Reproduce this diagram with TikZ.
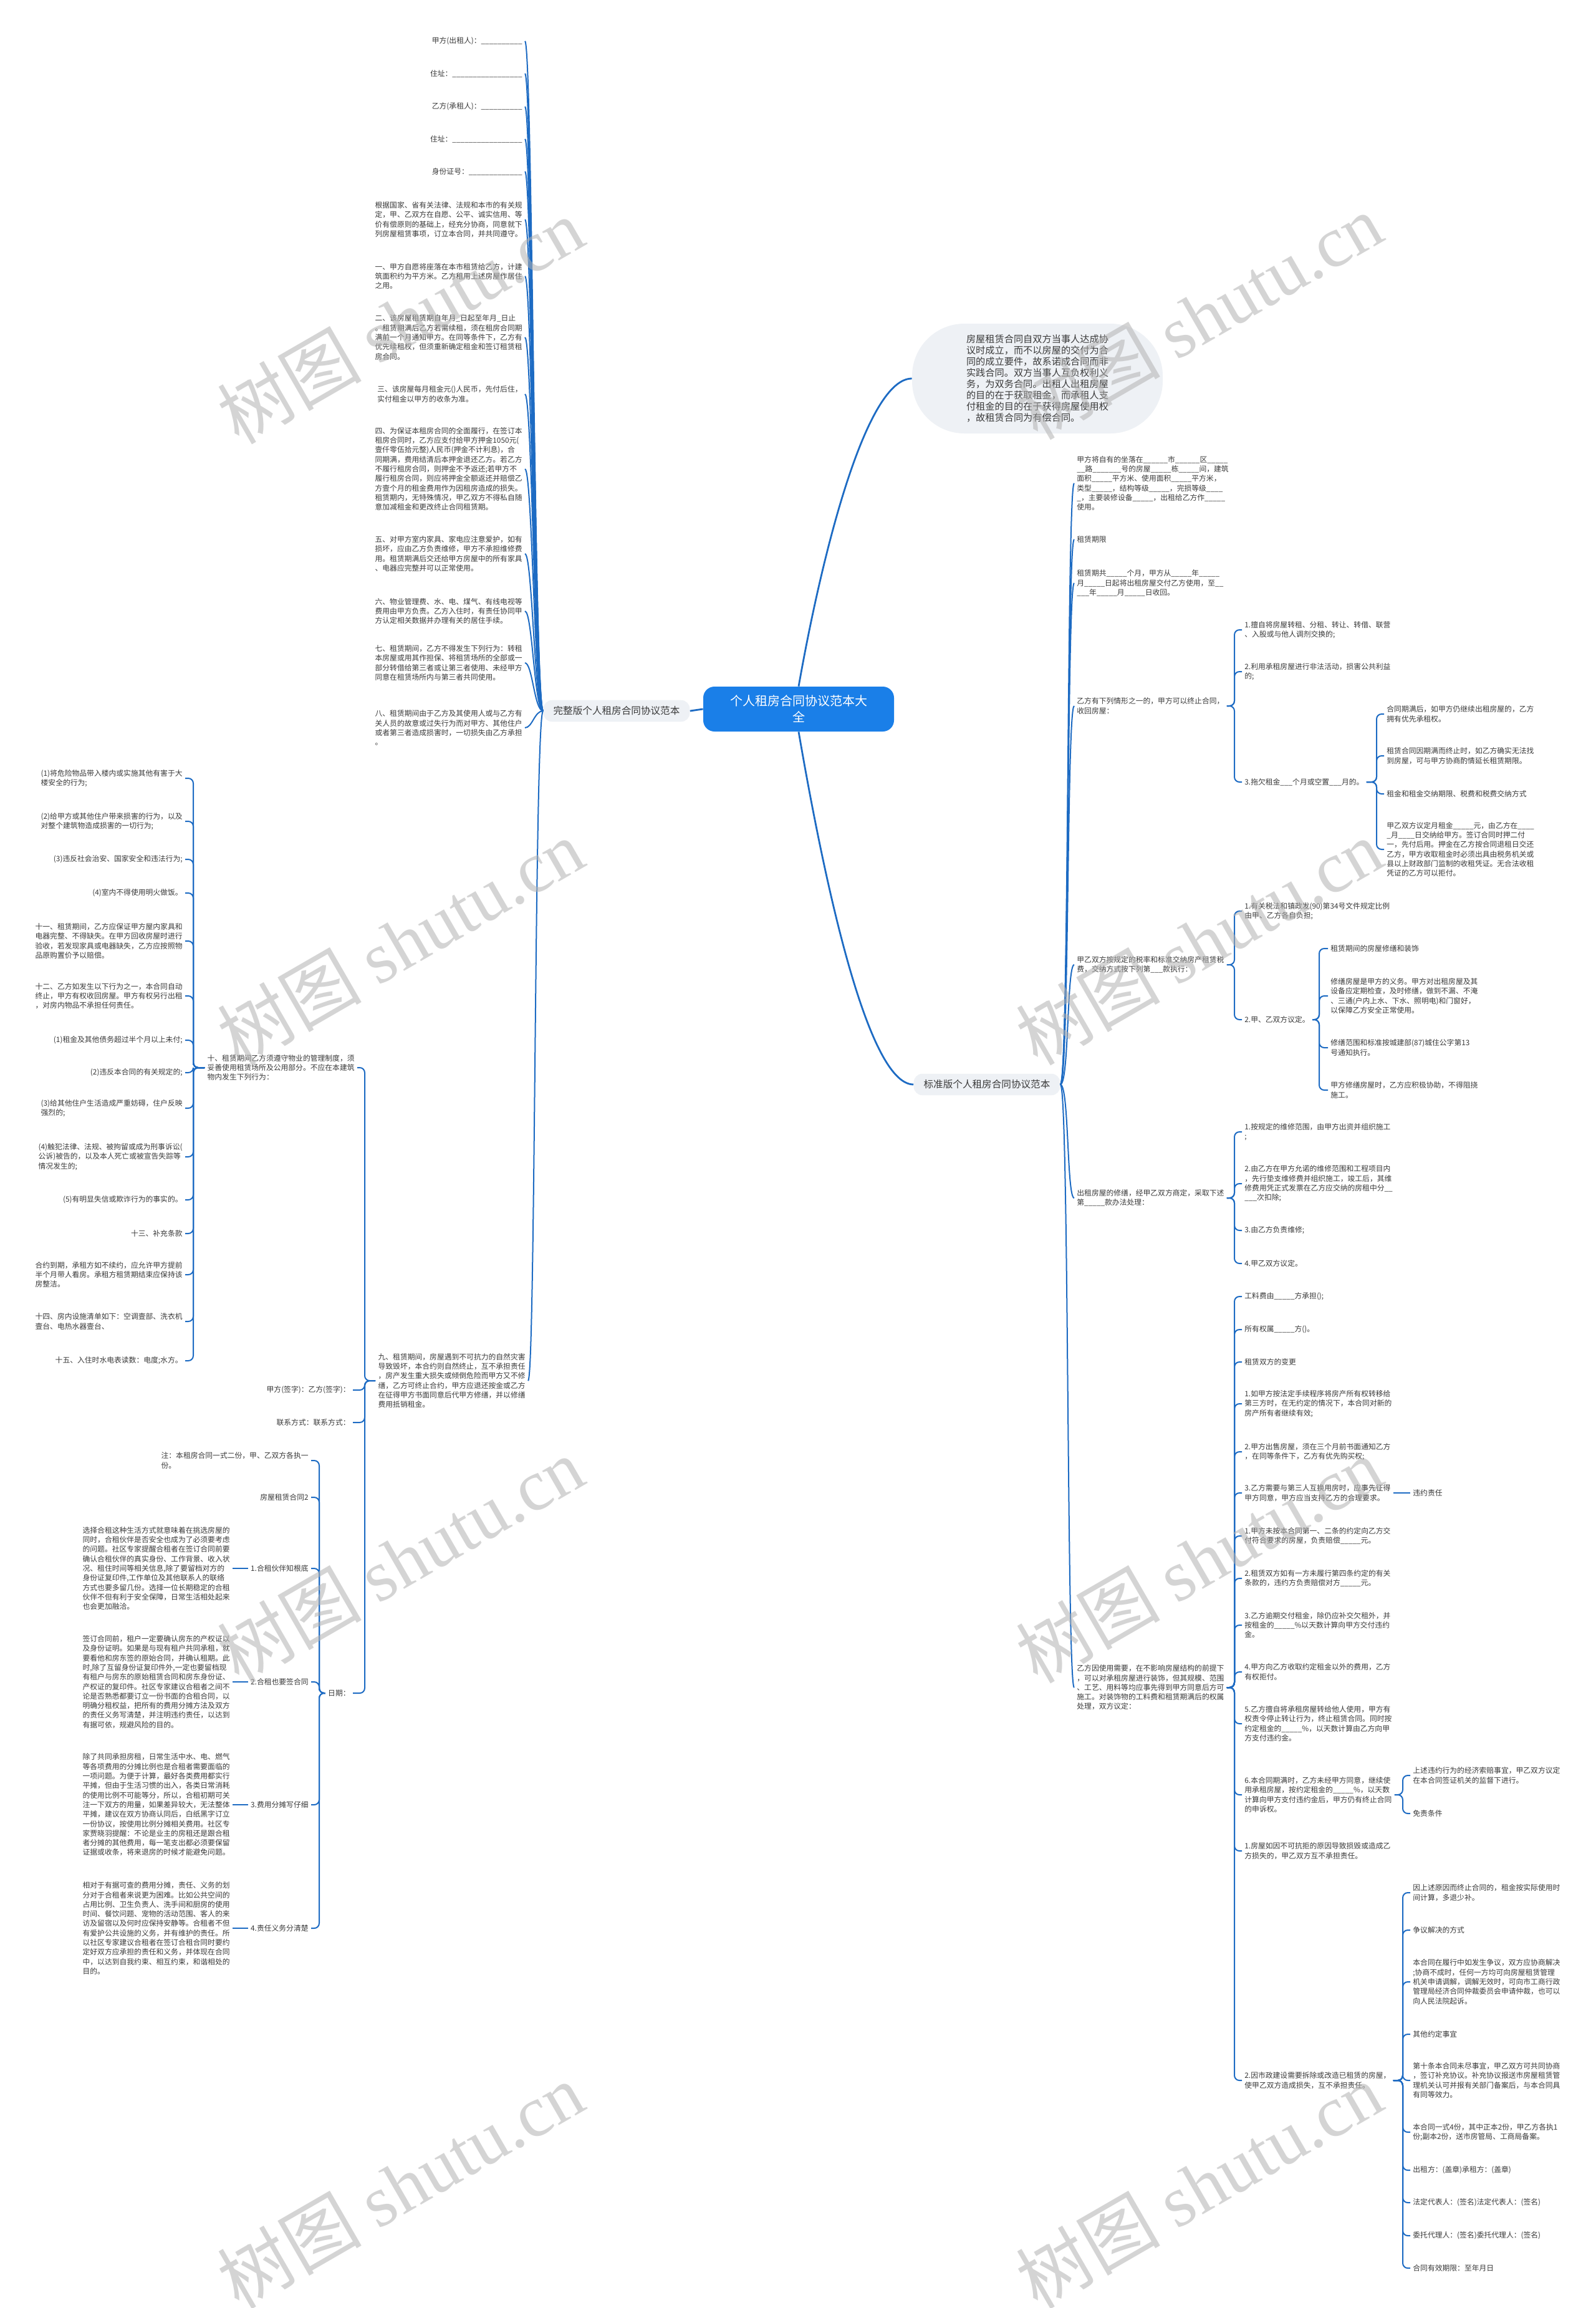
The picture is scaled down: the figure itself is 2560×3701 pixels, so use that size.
\documentclass[tikz,border=0pt]{standalone}
\usepackage{fontspec}
\setmainfont{Noto Sans CJK SC}
\newfontfamily\wmfont{Liberation Serif}
\usetikzlibrary{positioning}

\definecolor{linkblue}{HTML}{1D6BC3}
\definecolor{inkgray}{HTML}{3A3A3A}
\definecolor{rootblue}{HTML}{1A7FE8}
\definecolor{softgray}{HTML}{EEF1F5}

\newcommand{\blanks}[1]{\foreach\uscount in {1,...,#1}{\_}}

\tikzset{
  leaf/.style={inner sep=2pt, align=left, text=inkgray,
    font=\fontsize{5.9pt}{7.65pt}\selectfont},
  leafl/.style={leaf, anchor=east},
  leafr/.style={leaf, anchor=west},
  rootbox/.style={fill=rootblue, rounded corners=9pt, text=white, align=center,
    minimum width=153pt, minimum height=36pt, font=\fontsize{10pt}{13pt}\selectfont},
  topicbox/.style={fill=softgray, rounded corners=7pt, text=inkgray,
    inner xsep=8pt, inner ysep=5pt, font=\fontsize{7.8pt}{9pt}\selectfont},
  bubble/.style={fill=softgray, rounded corners=42pt, text=inkgray, align=left,
    minimum width=201pt, minimum height=88pt, font=\fontsize{7.6pt}{9pt}\selectfont},
  trunk/.style={draw=linkblue, line width=1.4pt},
  bund/.style={draw=linkblue, line width=1pt},
  link/.style={draw=linkblue, line width=1pt, rounded corners=4pt},
  wmark/.style={text=black!30, text opacity=0.55, rotate=30,
    font=\fontsize{58pt}{60pt}\selectfont},
}

\begin{document}
\begin{tikzpicture}[x=0.5pt,y=-0.5pt]
\fill[white] (0,0) rectangle (2560,3701);
\useasboundingbox (0,0) rectangle (2560,3701);

% centre and the two topics
\node[rootbox] (root) at (1281,1137) {个人租房合同协议范本大\\全};
\node[bubble] (bub) at (1664,607) {房屋租赁合同自双方当事人达成协\\议时成立，而不以房屋的交付为合\\同的成立要件，故系诺成合同而非\\实践合同。双方当事人互负权利义\\务，为双务合同。出租人出租房屋\\的目的在于获取租金，而承租人支\\付租金的目的在于获得房屋使用权\\，故租赁合同为有偿合同。};
\node[topicbox] (lft) at (989,1140) {完整版个人租房合同协议范本};
\node[topicbox] (rgt) at (1583,1739) {标准版个人租房合同协议范本};
\draw[trunk] (root.west) -- (lft.east);
\draw[trunk] (root.north) .. controls (1320,880) and (1390,607) .. (bub.west);
\draw[trunk] (root.south) .. controls (1320,1400) and (1390,1739) .. (rgt.west);

% left topic
\node[leafl] (l01) at (842,66) {甲方(出租人)：\blanks{10}};
\node[leafl] (l02) at (842,118) {住址：\blanks{17}};
\node[leafl] (l03) at (842,171) {乙方(承租人)：\blanks{10}};
\node[leafl] (l04) at (842,223) {住址：\blanks{17}};
\node[leafl] (l05) at (842,275) {身份证号：\blanks{13}};
\node[leafl] (l06) at (842,352) {根据国家、省有关法律、法规和本市的有关规\\定，甲、乙双方在自愿、公平、诚实信用、等\\价有偿原则的基础上，经充分协商，同意就下\\列房屋租赁事项，订立本合同，并共同遵守。};
\node[leafl] (l07) at (842,443) {一、甲方自愿将座落在本市租赁给乙方，计建\\筑面积约为平方米。乙方租用上述房屋作居住\\之用。};
\node[leafl] (l08) at (842,541) {二、该房屋租赁期自年月\_日起至年月\_日止\\。租赁期满后乙方若需续租，须在租房合同期\\满前一个月通知甲方。在同等条件下，乙方有\\优先续租权，但须重新确定租金和签订租赁租\\房合同。};
\node[leafl] (l09) at (842,632) {三、该房屋每月租金元()人民币，先付后住，\\实付租金以甲方的收条为准。};
\node[leafl] (l10) at (842,752) {四、为保证本租房合同的全面履行，在签订本\\租房合同时，乙方应支付给甲方押金1050元(\\壹仟零伍拾元整)人民币(押金不计利息)，合\\同期满，费用结清后本押金退还乙方。若乙方\\不履行租房合同，则押金不予返还;若甲方不\\履行租房合同，则应将押金全额返还并赔偿乙\\方壹个月的租金费用作为因租房造成的损失。\\租赁期内，无特殊情况，甲乙双方不得私自随\\意加减租金和更改终止合同租赁期。};
\node[leafl] (l11) at (842,888) {五、对甲方室内家具、家电应注意爱护，如有\\损坏，应由乙方负责维修，甲方不承担维修费\\用。租赁期满后交还给甲方房屋中的所有家具\\、电器应完整并可以正常使用。};
\node[leafl] (l12) at (842,980) {六、物业管理费、水、电、煤气、有线电视等\\费用由甲方负责。乙方入住时，有责任协同甲\\方认定相关数据并办理有关的居住手续。};
\node[leafl] (l13) at (842,1063) {七、租赁期间，乙方不得发生下列行为：转租\\本房屋或用其作担保、将租赁场所的全部或一\\部分转借给第三者或让第三者使用、未经甲方\\同意在租赁场所内与第三者共同使用。};
\node[leafl] (l14) at (842,1167) {八、租赁期间由于乙方及其使用人或与乙方有\\关人员的故意或过失行为而对甲方、其他住户\\或者第三者造成损害时，一切损失由乙方承担\\。};
\node[leafl] (l15) at (847,2214) {九、租赁期间，房屋遇到不可抗力的自然灾害\\导致毁坏，本合约则自然终止，互不承担责任\\，房产发生重大损失或倾倒危险而甲方又不修\\缮，乙方可终止合约，甲方应退还按金或乙方\\在征得甲方书面同意后代甲方修缮，并以修缮\\费用抵销租金。};
\draw[bund] (lft.west) .. controls +(-14,0) and +(12,0) .. (l01.east);
\draw[bund] (lft.west) .. controls +(-14,0) and +(12,0) .. (l02.east);
\draw[bund] (lft.west) .. controls +(-14,0) and +(12,0) .. (l03.east);
\draw[bund] (lft.west) .. controls +(-14,0) and +(12,0) .. (l04.east);
\draw[bund] (lft.west) .. controls +(-14,0) and +(12,0) .. (l05.east);
\draw[bund] (lft.west) .. controls +(-14,0) and +(12,0) .. (l06.east);
\draw[bund] (lft.west) .. controls +(-14,0) and +(12,0) .. (l07.east);
\draw[bund] (lft.west) .. controls +(-14,0) and +(12,0) .. (l08.east);
\draw[bund] (lft.west) .. controls +(-14,0) and +(12,0) .. (l09.east);
\draw[bund] (lft.west) .. controls +(-14,0) and +(12,0) .. (l10.east);
\draw[bund] (lft.west) .. controls +(-14,0) and +(12,0) .. (l11.east);
\draw[bund] (lft.west) .. controls +(-14,0) and +(12,0) .. (l12.east);
\draw[bund] (lft.west) .. controls +(-14,0) and +(12,0) .. (l13.east);
\draw[bund] (lft.west) .. controls +(-14,0) and +(12,0) .. (l14.east);
\draw[bund] (lft.west) .. controls +(-14,0) and +(12,0) .. (l15.east);

% under item nine
\coordinate (bx9) at (585,0);
\node[leafl] (n10) at (573,1712) {十、租赁期间乙方须遵守物业的管理制度，须\\妥善使用租赁场所及公用部分。不应在本建筑\\物内发生下列行为：};
\node[leafl] (nsig) at (566,2229) {甲方(签字)：乙方(签字)：};
\node[leafl] (ntel) at (566,2281) {联系方式：联系方式：};
\node[leafl] (ndate) at (566,2715) {日期：};
\draw[link] (l15.west) -- (l15.west -| bx9) |- (n10.east);
\draw[link] (l15.west) -- (l15.west -| bx9) |- (nsig.east);
\draw[link] (l15.west) -- (l15.west -| bx9) |- (ntel.east);
\draw[link] (l15.west) -- (l15.west -| bx9) |- (ndate.east);

% under item ten
\coordinate (bx10) at (310,0);
\node[leafl] (k01) at (297,1248) {(1)将危险物品带入楼内或实施其他有害于大\\楼安全的行为;};
\node[leafl] (k02) at (297,1317) {(2)给甲方或其他住户带来损害的行为，以及\\对整个建筑物造成损害的一切行为;};
\node[leafl] (k03) at (297,1378) {(3)违反社会治安、国家安全和违法行为;};
\node[leafl] (k04) at (297,1432) {(4)室内不得使用明火做饭。};
\node[leafl] (k05) at (297,1509) {十一、租赁期间，乙方应保证甲方屋内家具和\\电器完整、不得缺失。在甲方回收房屋时进行\\验收，若发现家具或电器缺失，乙方应按照物\\品原购置价予以赔偿。};
\node[leafl] (k06) at (297,1597) {十二、乙方如发生以下行为之一，本合同自动\\终止，甲方有权收回房屋。甲方有权另行出租\\，对房内物品不承担任何责任。};
\node[leafl] (k07) at (297,1668) {(1)租金及其他债务超过半个月以上未付;};
\node[leafl] (k08) at (297,1720) {(2)违反本合同的有关规定的;};
\node[leafl] (k09) at (297,1777) {(3)给其他住户生活造成严重妨碍，住户反映\\强烈的;};
\node[leafl] (k10) at (297,1855) {(4)触犯法律、法规、被拘留或成为刑事诉讼(\\公诉)被告的，以及本人死亡或被宣告失踪等\\情况发生的;};
\node[leafl] (k11) at (297,1924) {(5)有明显失信或欺诈行为的事实的。};
\node[leafl] (k12) at (297,1978) {十三、补充条款};
\node[leafl] (k13) at (297,2044) {合约到期，承租方如不续约，应允许甲方提前\\半个月带人看房。承租方租赁期结束应保持该\\房整洁。};
\node[leafl] (k14) at (297,2119) {十四、房内设施清单如下：空调壹部、洗衣机\\壹台、电热水器壹台、};
\node[leafl] (k15) at (297,2182) {十五、入住时水电表读数：电度;水方。};
\draw[link] (n10.west) -- (n10.west -| bx10) |- (k01.east);
\draw[link] (n10.west) -- (n10.west -| bx10) |- (k02.east);
\draw[link] (n10.west) -- (n10.west -| bx10) |- (k03.east);
\draw[link] (n10.west) -- (n10.west -| bx10) |- (k04.east);
\draw[link] (n10.west) -- (n10.west -| bx10) |- (k05.east);
\draw[link] (n10.west) -- (n10.west -| bx10) |- (k06.east);
\draw[link] (n10.west) -- (n10.west -| bx10) |- (k07.east);
\draw[link] (n10.west) -- (n10.west -| bx10) |- (k08.east);
\draw[link] (n10.west) -- (n10.west -| bx10) |- (k09.east);
\draw[link] (n10.west) -- (n10.west -| bx10) |- (k10.east);
\draw[link] (n10.west) -- (n10.west -| bx10) |- (k11.east);
\draw[link] (n10.west) -- (n10.west -| bx10) |- (k12.east);
\draw[link] (n10.west) -- (n10.west -| bx10) |- (k13.east);
\draw[link] (n10.west) -- (n10.west -| bx10) |- (k14.east);
\draw[link] (n10.west) -- (n10.west -| bx10) |- (k15.east);

% under the date
\coordinate (bxd) at (512,0);
\node[leafl] (d1) at (499,2342) {注：本租房合同一式二份，甲、乙双方各执一\\份。};
\node[leafl] (d2) at (499,2401) {房屋租赁合同2};
\node[leafl] (d3) at (499,2515) {1.合租伙伴知根底};
\node[leafl] (d4) at (499,2697) {2.合租也要签合同};
\node[leafl] (d5) at (499,2894) {3.费用分摊写仔细};
\node[leafl] (d6) at (499,3092) {4.责任义务分清楚};
\draw[link] (ndate.west) -- (ndate.west -| bxd) |- (d1.east);
\draw[link] (ndate.west) -- (ndate.west -| bxd) |- (d2.east);
\draw[link] (ndate.west) -- (ndate.west -| bxd) |- (d3.east);
\draw[link] (ndate.west) -- (ndate.west -| bxd) |- (d4.east);
\draw[link] (ndate.west) -- (ndate.west -| bxd) |- (d5.east);
\draw[link] (ndate.west) -- (ndate.west -| bxd) |- (d6.east);
\node[leafl] (g3) at (373,2515) {选择合租这种生活方式就意味着在挑选房屋的\\同时，合租伙伴是否安全也成为了必须要考虑\\的问题。社区专家提醒合租者在签订合同前要\\确认合租伙伴的真实身份、工作背景、收入状\\况、租住时间等相关信息,除了要留档对方的\\身份证复印件,工作单位及其他联系人的联络\\方式也要多留几份。选择一位长期稳定的合租\\伙伴不但有利于安全保障，日常生活相处起来\\也会更加融洽。};
\node[leafl] (g4) at (373,2697) {签订合同前，租户一定要确认房东的产权证以\\及身份证明。如果是与现有租户共同承租，就\\要看他和房东签的原始合同，并确认租期。此\\时,除了互留身份证复印件外,一定也要留档现\\有租户与房东的原始租赁合同和房东身份证、\\产权证的复印件。社区专家建议合租者之间不\\论是否熟悉都要订立一份书面的合租合同，以\\明确分租权益，把所有的费用分摊方法及双方\\的责任义务写清楚，并注明违约责任，以达到\\有据可依，规避风险的目的。};
\node[leafl] (g5) at (373,2894) {除了共同承担房租，日常生活中水、电、燃气\\等各项费用的分摊比例也是合租者需要面临的\\一项问题。为便于计算，最好各类费用都实行\\平摊，但由于生活习惯的出入，各类日常消耗\\的使用比例不可能等分，所以，合租初期可关\\注一下双方的用量，如果差异较大，无法整体\\平摊，建议在双方协商认同后，白纸黑字订立\\一份协议，按使用比例分摊相关费用。社区专\\家贾晓羽提醒：不论是业主的房租还是跟合租\\者分摊的其他费用，每一笔支出都必须要保留\\证据或收条，将来退房的时候才能避免问题。};
\node[leafl] (g6) at (373,3092) {相对于有据可查的费用分摊，责任、义务的划\\分对于合租者来说更为困难。比如公共空间的\\占用比例、卫生负责人、洗手间和厨房的使用\\时间、餐饮问题、宠物的活动范围、客人的来\\访及留宿以及何时应保持安静等。合租者不但\\有爱护公共设施的义务，并有维护的责任。所\\以社区专家建议合租者在签订合租合同时要约\\定好双方应承担的责任和义务，并体现在合同\\中，以达到自我约束、相互约束，和谐相处的\\目的。};
\draw[link] (d3.west) -- (g3.east);
\draw[link] (d4.west) -- (g4.east);
\draw[link] (d5.west) -- (g5.east);
\draw[link] (d6.west) -- (g6.east);

% right topic
\node[leafr] (a1) at (1723,775) {甲方将自有的坐落在\blanks{6}市\blanks{6}区\blanks{5}\\\blanks{2}路\blanks{7}号的房屋\blanks{5}栋\blanks{5}间，建筑\\面积\blanks{5}平方米、使用面积\blanks{5}平方米，\\类型\blanks{5}，结构等级\blanks{5}，完损等级\blanks{4}\\\blanks{1}，主要装修设备\blanks{5}，出租给乙方作\blanks{5}\\使用。};
\node[leafr] (a2) at (1723,865) {租赁期限};
\node[leafr] (a3) at (1723,935) {租赁期共\blanks{5}个月，甲方从\blanks{5}年\blanks{5}\\月\blanks{5}日起将出租房屋交付乙方使用，至\blanks{2}\\\blanks{3}年\blanks{5}月\blanks{5}日收回。};
\node[leafr] (a4) at (1723,1132) {乙方有下列情形之一的，甲方可以终止合同，\\收回房屋：};
\node[leafr] (a5) at (1723,1547) {甲乙双方按规定的税率和标准交纳房产租赁税\\费，交纳方式按下列第\blanks{3}款执行：};
\node[leafr] (a6) at (1723,1921) {出租房屋的修缮，经甲乙双方商定，采取下述\\第\blanks{5}款办法处理：};
\node[leafr] (a7) at (1723,2706) {乙方因使用需要，在不影响房屋结构的前提下\\，可以对承租房屋进行装饰，但其规模、范围\\、工艺、用料等均应事先得到甲方同意后方可\\施工。对装饰物的工料费和租赁期满后的权属\\处理，双方议定：};
\draw[bund] (rgt.east) .. controls +(14,0) and +(-12,0) .. (a1.west);
\draw[bund] (rgt.east) .. controls +(14,0) and +(-12,0) .. (a2.west);
\draw[bund] (rgt.east) .. controls +(14,0) and +(-12,0) .. (a3.west);
\draw[bund] (rgt.east) .. controls +(14,0) and +(-12,0) .. (a4.west);
\draw[bund] (rgt.east) .. controls +(14,0) and +(-12,0) .. (a5.west);
\draw[bund] (rgt.east) .. controls +(14,0) and +(-12,0) .. (a6.west);
\draw[bund] (rgt.east) .. controls +(14,0) and +(-12,0) .. (a7.west);

\coordinate (bxB) at (1980,0);
\coordinate (bxC) at (2208,0);
\coordinate (bxF) at (2116,0);
\coordinate (bxH) at (2250,0);

% termination cases
\node[leafr] (b41) at (1992,1010) {1.擅自将房屋转租、分租、转让、转借、联营\\、入股或与他人调剂交换的;};
\node[leafr] (b42) at (1992,1077) {2.利用承租房屋进行非法活动，损害公共利益\\的;};
\node[leafr] (b43) at (1992,1254) {3.拖欠租金\blanks{3}个月或空置\blanks{3}月的。};
\draw[link] (a4.east) -- (a4.east -| bxB) |- (b41.west);
\draw[link] (a4.east) -- (a4.east -| bxB) |- (b42.west);
\draw[link] (a4.east) -- (a4.east -| bxB) |- (b43.west);
\node[leafr] (c1) at (2220,1145) {合同期满后，如甲方仍继续出租房屋的，乙方\\拥有优先承租权。};
\node[leafr] (c2) at (2220,1212) {租赁合同因期满而终止时，如乙方确实无法找\\到房屋，可与甲方协商酌情延长租赁期限。};
\node[leafr] (c3) at (2220,1273) {租金和租金交纳期限、税费和税费交纳方式};
\node[leafr] (c4) at (2220,1362) {甲乙双方议定月租金\blanks{5}元，由乙方在\blanks{4}\\\blanks{1}月\blanks{4}日交纳给甲方。签订合同时押二付\\一，先付后用。押金在乙方按合同退租日交还\\乙方，甲方收取租金时必须出具由税务机关或\\县以上财政部门监制的收租凭证。无合法收租\\凭证的乙方可以拒付。};
\draw[link] (b43.east) -- (b43.east -| bxC) |- (c1.west);
\draw[link] (b43.east) -- (b43.east -| bxC) |- (c2.west);
\draw[link] (b43.east) -- (b43.east -| bxC) |- (c3.west);
\draw[link] (b43.east) -- (b43.east -| bxC) |- (c4.west);

% taxes
\node[leafr] (b51) at (1992,1461) {1.有关税法和镇政发(90)第34号文件规定比例\\由甲、乙方各自负担;};
\node[leafr] (b52) at (1992,1635) {2.甲、乙双方议定。};
\draw[link] (a5.east) -- (a5.east -| bxB) |- (b51.west);
\draw[link] (a5.east) -- (a5.east -| bxB) |- (b52.west);
\node[leafr] (f1) at (2130,1521) {租赁期间的房屋修缮和装饰};
\node[leafr] (f2) at (2130,1597) {修缮房屋是甲方的义务。甲方对出租房屋及其\\设备应定期检查，及时修缮，做到不漏、不淹\\、三通(户内上水、下水、照明电)和门窗好，\\以保障乙方安全正常使用。};
\node[leafr] (f3) at (2130,1680) {修缮范围和标准按城建部(87)城住公字第13\\号通知执行。};
\node[leafr] (f4) at (2130,1748) {甲方修缮房屋时，乙方应积极协助，不得阻挠\\施工。};
\draw[link] (b52.east) -- (b52.east -| bxF) |- (f1.west);
\draw[link] (b52.east) -- (b52.east -| bxF) |- (f2.west);
\draw[link] (b52.east) -- (b52.east -| bxF) |- (f3.west);
\draw[link] (b52.east) -- (b52.east -| bxF) |- (f4.west);

% repairs
\node[leafr] (b61) at (1992,1815) {1.按规定的维修范围，由甲方出资并组织施工\\;};
\node[leafr] (b62) at (1992,1898) {2.由乙方在甲方允诺的维修范围和工程项目内\\，先行垫支维修费并组织施工，竣工后，其维\\修费用凭正式发票在乙方应交纳的房租中分\blanks{2}\\\blanks{3}次扣除;};
\node[leafr] (b63) at (1992,1973) {3.由乙方负责维修;};
\node[leafr] (b64) at (1992,2026) {4.甲乙双方议定。};
\draw[link] (a6.east) -- (a6.east -| bxB) |- (b61.west);
\draw[link] (a6.east) -- (a6.east -| bxB) |- (b62.west);
\draw[link] (a6.east) -- (a6.east -| bxB) |- (b63.west);
\draw[link] (a6.east) -- (a6.east -| bxB) |- (b64.west);

% decoration, changes, liability
\node[leafr] (b701) at (1992,2079) {工料费由\blanks{5}方承担();};
\node[leafr] (b702) at (1992,2132) {所有权属\blanks{5}方()。};
\node[leafr] (b703) at (1992,2184) {租赁双方的变更};
\node[leafr] (b704) at (1992,2251) {1.如甲方按法定手续程序将房产所有权转移给\\第三方时，在无约定的情况下，本合同对新的\\房产所有者继续有效;};
\node[leafr] (b705) at (1992,2328) {2.甲方出售房屋，须在三个月前书面通知乙方\\，在同等条件下，乙方有优先购买权;};
\node[leafr] (b706) at (1992,2394) {3.乙方需要与第三人互换用房时，应事先征得\\甲方同意，甲方应当支持乙方的合理要求。};
\node[leafr] (b707) at (1992,2463) {1.甲方未按本合同第一、二条的约定向乙方交\\付符合要求的房屋，负责赔偿\blanks{5}元。};
\node[leafr] (b708) at (1992,2531) {2.租赁双方如有一方未履行第四条约定的有关\\条款的，违约方负责赔偿对方\blanks{5}元。};
\node[leafr] (b709) at (1992,2606) {3.乙方逾期交付租金，除仍应补交欠租外，并\\按租金的\blanks{5}\%以天数计算向甲方交付违约\\金。};
\node[leafr] (b710) at (1992,2681) {4.甲方向乙方收取约定租金以外的费用，乙方\\有权拒付。};
\node[leafr] (b711) at (1992,2764) {5.乙方擅自将承租房屋转给他人使用，甲方有\\权责令停止转让行为，终止租赁合同。同时按\\约定租金的\blanks{5}\%，以天数计算由乙方向甲\\方支付违约金。};
\node[leafr] (b712) at (1992,2878) {6.本合同期满时，乙方未经甲方同意，继续使\\用承租房屋，按约定租金的\blanks{5}\%，以天数\\计算向甲方支付违约金后，甲方仍有终止合同\\的申诉权。};
\node[leafr] (b713) at (1992,2968) {1.房屋如因不可抗拒的原因导致损毁或造成乙\\方损失的，甲乙双方互不承担责任。};
\node[leafr] (b714) at (1992,3336) {2.因市政建设需要拆除或改造已租赁的房屋，\\使甲乙双方造成损失，互不承担责任。};
\draw[link] (a7.east) -- (a7.east -| bxB) |- (b701.west);
\draw[link] (a7.east) -- (a7.east -| bxB) |- (b702.west);
\draw[link] (a7.east) -- (a7.east -| bxB) |- (b703.west);
\draw[link] (a7.east) -- (a7.east -| bxB) |- (b704.west);
\draw[link] (a7.east) -- (a7.east -| bxB) |- (b705.west);
\draw[link] (a7.east) -- (a7.east -| bxB) |- (b706.west);
\draw[link] (a7.east) -- (a7.east -| bxB) |- (b707.west);
\draw[link] (a7.east) -- (a7.east -| bxB) |- (b708.west);
\draw[link] (a7.east) -- (a7.east -| bxB) |- (b709.west);
\draw[link] (a7.east) -- (a7.east -| bxB) |- (b710.west);
\draw[link] (a7.east) -- (a7.east -| bxB) |- (b711.west);
\draw[link] (a7.east) -- (a7.east -| bxB) |- (b712.west);
\draw[link] (a7.east) -- (a7.east -| bxB) |- (b713.west);
\draw[link] (a7.east) -- (a7.east -| bxB) |- (b714.west);

\node[leafr] (wy) at (2262,2394) {违约责任};
\draw[link] (b706.east) -- (wy.west);

\node[leafr] (h1) at (2262,2847) {上述违约行为的经济索赔事宜，甲乙双方议定\\在本合同签证机关的监督下进行。};
\node[leafr] (h2) at (2262,2908) {免责条件};
\draw[link] (b712.east) -- (b712.east -| bxH) |- (h1.west);
\draw[link] (b712.east) -- (b712.east -| bxH) |- (h2.west);

\node[leafr] (m1) at (2262,3035) {因上述原因而终止合同的，租金按实际使用时\\间计算，多退少补。};
\node[leafr] (m2) at (2262,3095) {争议解决的方式};
\node[leafr] (m3) at (2262,3178) {本合同在履行中如发生争议，双方应协商解决\\;协商不成时，任何一方均可向房屋租赁管理\\机关申请调解，调解无效时，可向市工商行政\\管理局经济合同仲裁委员会申请仲裁，也可以\\向人民法院起诉。};
\node[leafr] (m4) at (2262,3262) {其他约定事宜};
\node[leafr] (m5) at (2262,3336) {第十条本合同未尽事宜，甲乙双方可共同协商\\，签订补充协议。补充协议报送市房屋租赁管\\理机关认可并报有关部门备案后，与本合同具\\有同等效力。};
\node[leafr] (m6) at (2262,3419) {本合同一式4份，其中正本2份，甲乙方各执1\\份;副本2份，送市房管局、工商局备案。};
\node[leafr] (m7) at (2262,3480) {出租方：(盖章)承租方：(盖章)};
\node[leafr] (m8) at (2262,3532) {法定代表人：(签名)法定代表人：(签名)};
\node[leafr] (m9) at (2262,3585) {委托代理人：(签名)委托代理人：(签名)};
\node[leafr] (m10) at (2262,3637) {合同有效期限：至年月日};
\draw[link] (b714.east) -- (b714.east -| bxH) |- (m1.west);
\draw[link] (b714.east) -- (b714.east -| bxH) |- (m2.west);
\draw[link] (b714.east) -- (b714.east -| bxH) |- (m3.west);
\draw[link] (b714.east) -- (b714.east -| bxH) |- (m4.west);
\draw[link] (b714.east) -- (b714.east -| bxH) |- (m5.west);
\draw[link] (b714.east) -- (b714.east -| bxH) |- (m6.west);
\draw[link] (b714.east) -- (b714.east -| bxH) |- (m7.west);
\draw[link] (b714.east) -- (b714.east -| bxH) |- (m8.west);
\draw[link] (b714.east) -- (b714.east -| bxH) |- (m9.west);
\draw[link] (b714.east) -- (b714.east -| bxH) |- (m10.west);

% watermarks
\node[wmark] (wm1) at (642,514) {树图 {\wmfont shutu.cn}};
\node[wmark] (wm2) at (1923,507) {树图 {\wmfont shutu.cn}};
\node[wmark] (wm3) at (642,1510) {树图 {\wmfont shutu.cn}};
\node[wmark] (wm4) at (1923,1510) {树图 {\wmfont shutu.cn}};
\node[wmark] (wm5) at (642,2501) {树图 {\wmfont shutu.cn}};
\node[wmark] (wm6) at (1923,2501) {树图 {\wmfont shutu.cn}};
\node[wmark] (wm7) at (642,3504) {树图 {\wmfont shutu.cn}};
\node[wmark] (wm8) at (1923,3504) {树图 {\wmfont shutu.cn}};
\end{tikzpicture}
\end{document}
